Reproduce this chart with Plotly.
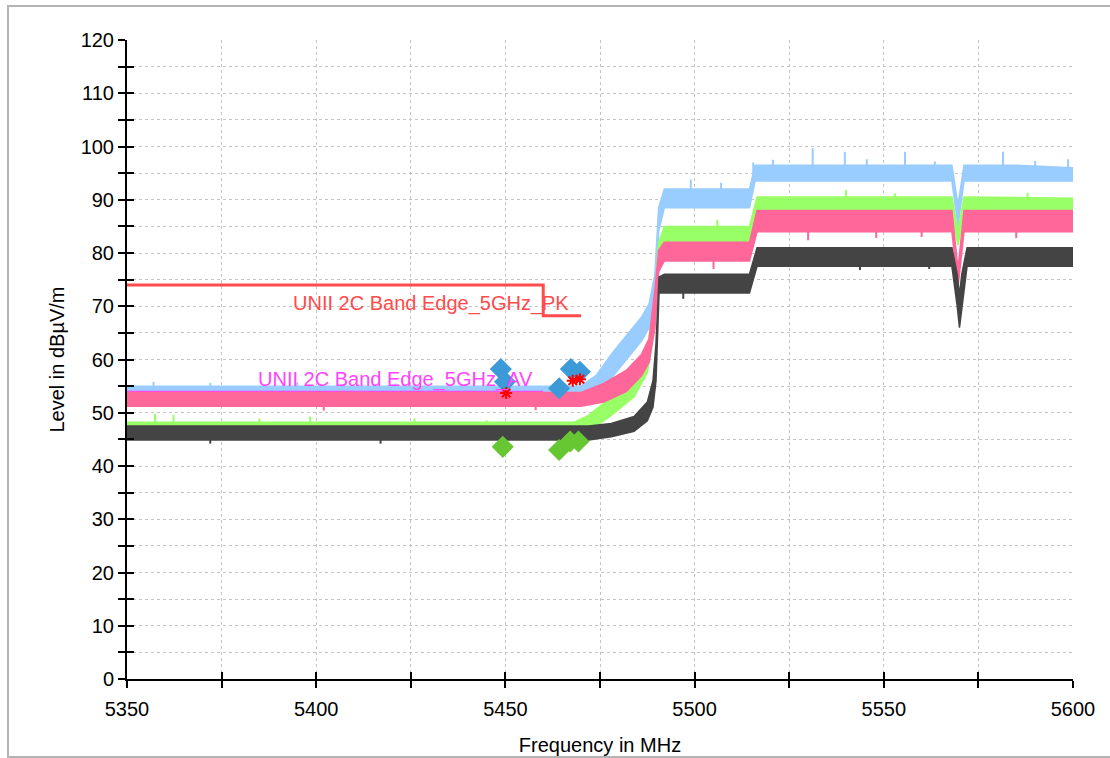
import plotly.graph_objects as go

# ---- frequency axis (MHz) and level axis (dBuV/m) ----
x_tick_vals = [5350, 5375, 5400, 5425, 5450, 5475, 5500, 5525, 5550, 5575, 5600]
x_tick_labels = ["5350", "", "5400", "", "5450", "", "5500", "", "5550", "", "5600"]
y_tick_vals = [0, 10, 20, 30, 40, 50, 60, 70, 80, 90, 100, 110, 120]

# ---- limit lines ----
pk_limit_freq = [5350, 5460, 5460, 5470]
pk_limit_level = [74.0, 74.0, 68.2, 68.2]
av_limit_freq = [5350, 5460]
av_limit_level = [54.0, 54.0]

# ---- measured traces: upper / lower envelope of each sweep ----
blue_freq = [5350, 5470, 5474, 5478, 5482, 5486, 5488, 5489.5, 5490.5, 5492, 5514.5, 5516,
             5530, 5568, 5569.6, 5571.2, 5585, 5600]
blue_upper = [55.0, 55.0, 57.0, 61.0, 64.5, 68.0, 70.5, 76.0, 88.5, 92.0, 92.0, 96.5,
              96.5, 96.5, 89.0, 96.5, 96.5, 96.0]
blue_lower = [51.5, 51.5, 53.0, 56.5, 60.0, 63.5, 66.0, 70.0, 84.0, 88.5, 88.5, 93.5,
              93.5, 93.5, 85.0, 93.5, 93.5, 93.5]

green_freq = [5350, 5468, 5472, 5478, 5484, 5487.5, 5489.5, 5490.5, 5492, 5514.5, 5516.5,
              5568, 5569.6, 5571.2, 5600]
green_upper = [48.2, 48.2, 49.5, 53.0, 57.0, 62.0, 72.0, 82.0, 85.0, 85.0, 90.5,
               90.5, 84.0, 90.5, 90.3]
green_lower = [45.5, 45.5, 46.5, 49.5, 53.0, 57.5, 66.0, 78.0, 82.0, 82.0, 87.5,
               87.5, 81.5, 87.5, 87.5]

pink_freq = [5350, 5470, 5476, 5482, 5486, 5488, 5489.5, 5490.5, 5492, 5514.5, 5516.5,
             5568, 5569.6, 5571.2, 5600]
pink_upper = [53.8, 53.8, 55.5, 58.0, 61.0, 64.0, 73.0, 80.5, 82.0, 82.0, 88.0,
              88.0, 77.0, 88.0, 88.0]
pink_lower = [51.2, 51.2, 52.0, 54.0, 57.0, 59.5, 66.0, 76.5, 78.5, 78.5, 84.0,
              84.0, 73.5, 84.0, 84.0]

black_freq = [5350, 5472, 5478, 5484, 5487.5, 5489, 5489.8, 5490.6, 5492, 5514.5, 5516.5,
              5568, 5569.4, 5570, 5570.6, 5572, 5600]
black_upper = [47.5, 47.5, 48.0, 49.3, 52.0, 56.0, 63.0, 75.5, 76.0, 76.0, 81.0,
               81.0, 76.0, 72.0, 76.0, 81.0, 81.0]
black_lower = [44.9, 44.9, 45.5, 46.5, 48.5, 51.0, 56.0, 72.5, 72.5, 72.5, 77.5,
               77.5, 70.0, 66.0, 70.0, 77.5, 77.5]

# ---- isolated noise spikes standing out of each envelope (freq, top, bottom) ----
blue_spike_freq = [5357, 5372, 5395, 5421, 5499, 5507, 5515.5, 5520.7, 5531.2, 5539.7,
                   5545.5, 5555.6, 5563.5, 5581.5, 5590, 5598.7]
blue_spike_top = [55.8, 55.6, 55.7, 55.5, 93.8, 93.2, 97.0, 97.5, 99.7, 99.0,
                  97.6, 99.0, 97.2, 99.0, 97.3, 97.6]
blue_spike_bot = [54.0, 54.0, 54.0, 54.0, 91.0, 91.0, 95.0, 95.5, 95.5, 95.5,
                  95.5, 95.5, 95.5, 95.5, 95.5, 95.5]
green_spike_freq = [5357.4, 5362.3, 5385, 5398.4, 5426, 5445, 5506, 5540, 5553, 5588]
green_spike_top = [49.8, 49.6, 48.9, 49.3, 48.9, 48.6, 86.2, 91.8, 91.2, 91.3]
green_spike_bot = [47.0, 47.0, 47.0, 47.0, 47.0, 47.0, 84.0, 89.5, 89.5, 89.5]
pink_spike_freq = [5402, 5458, 5505, 5530, 5548, 5560, 5585]
pink_spike_top = [52.5, 52.5, 79.5, 85.0, 85.0, 85.0, 85.0]
pink_spike_bot = [50.4, 50.5, 77.0, 82.4, 82.8, 83.0, 82.8]
black_spike_freq = [5372, 5417, 5497, 5543.7, 5562, 5593]
black_spike_top = [46.0, 46.0, 74.0, 79.0, 79.0, 79.0]
black_spike_bot = [44.2, 44.2, 71.4, 76.8, 77.0, 77.4]

# ---- final measurement points ----
peak_freq = [5448.8, 5449.9, 5464.2, 5467.3, 5469.7]
peak_level = [58.2, 55.8, 54.6, 58.2, 57.7]
avg_freq = [5449.3, 5464.2, 5467.1, 5469.3]
avg_level = [43.6, 43.0, 44.6, 44.6]
star_freq = [5450.2, 5467.8, 5469.7]
star_level = [53.7, 56.0, 56.3]

FONT = "Liberation Sans, Arial, sans-serif"
FSIZE = 20

fig = go.Figure()


def band(freq, upper, lower, color):
    fig.add_trace(go.Scatter(
        x=list(freq) + list(freq)[::-1],
        y=list(upper) + list(lower)[::-1],
        mode="lines", fill="toself", fillcolor=color,
        line=dict(color=color, width=1.5),
        hoverinfo="skip", showlegend=False,
    ))


def spikes(freq, top, bot, color):
    xs, ys = [], []
    for f, t, b in zip(freq, top, bot):
        xs += [f, f, None]
        ys += [b, t, None]
    fig.add_trace(go.Scatter(x=xs, y=ys, mode="lines", line=dict(color=color, width=2),
                             hoverinfo="skip", showlegend=False))


fig.add_trace(go.Scatter(x=pk_limit_freq, y=pk_limit_level, mode="lines",
                         line=dict(color="#ff4b4b", width=3), showlegend=False))
band(blue_freq, blue_upper, blue_lower, "#99ccff")
spikes(blue_spike_freq, blue_spike_top, blue_spike_bot, "#99ccff")
fig.add_trace(go.Scatter(x=av_limit_freq, y=av_limit_level, mode="lines",
                         line=dict(color="#ff44ff", width=1.5), showlegend=False))
band(green_freq, green_upper, green_lower, "#99ff66")
spikes(green_spike_freq, green_spike_top, green_spike_bot, "#99ff66")
band(pink_freq, pink_upper, pink_lower, "#ff6699")
spikes(pink_spike_freq, pink_spike_top, pink_spike_bot, "#ff6699")
band(black_freq, black_upper, black_lower, "#444444")
spikes(black_spike_freq, black_spike_top, black_spike_bot, "#444444")

fig.add_trace(go.Scatter(x=peak_freq, y=peak_level, mode="markers",
                         marker=dict(symbol="diamond", size=17, color="#3d9ad8"),
                         showlegend=False))
fig.add_trace(go.Scatter(x=avg_freq, y=avg_level, mode="markers",
                         marker=dict(symbol="diamond", size=17, color="#66c733"),
                         showlegend=False))
fig.add_trace(go.Scatter(x=star_freq, y=star_level, mode="markers",
                         marker=dict(symbol="asterisk", size=10,
                                     line=dict(color="#ff0000", width=2)),
                         showlegend=False))

# companion axes that draw the inner half of each crossing tick mark
fig.add_trace(go.Scatter(x=[5350], y=[0], xaxis="x2", yaxis="y2", mode="markers",
                         marker=dict(opacity=0), hoverinfo="skip", showlegend=False))

fig.add_annotation(x=5467.3, y=70.6, text="UNII 2C Band Edge_5GHz_PK", showarrow=False,
                   xanchor="right", yanchor="middle",
                   font=dict(family=FONT, size=FSIZE, color="#ff4b4b"))
fig.add_annotation(x=5384.0, y=56.3, text="UNII 2C Band Edge_5GHz_AV", showarrow=False,
                   xanchor="left", yanchor="middle",
                   font=dict(family=FONT, size=FSIZE, color="#ff44ff"))

grid = dict(showgrid=True, gridcolor="#c4c4c4", gridwidth=1, griddash="dot")

fig.update_layout(
    width=1110, height=758,
    margin=dict(l=127, r=37, t=40, b=79),
    paper_bgcolor="white", plot_bgcolor="white",
    font=dict(family=FONT, size=FSIZE, color="black"),
    xaxis=dict(range=[5350, 5600], tickvals=x_tick_vals, ticktext=x_tick_labels,
               ticks="outside", ticklen=7, tickwidth=2, tickcolor="black",
               showline=True, linecolor="black", linewidth=2,
               zeroline=False, automargin=False, ticklabelstandoff=4,
               title=dict(text="Frequency in MHz", standoff=19,
                          font=dict(family=FONT, size=FSIZE)),
               **grid),
    yaxis=dict(range=[0, 120], tickvals=y_tick_vals,
               ticks="outside", ticklen=7, tickwidth=2, tickcolor="black",
               minor=dict(dtick=5, ticks="outside", ticklen=7, tickwidth=2,
                          tickcolor="black", showgrid=True, gridcolor="#c4c4c4",
                          griddash="dot"),
               showline=True, linecolor="black", linewidth=2, zeroline=False,
               automargin=False,
               title=dict(text="Level in dBµV/m", standoff=11,
                          font=dict(family=FONT, size=FSIZE)),
               **grid),
    xaxis2=dict(range=[5350, 5600], overlaying="x", anchor="y2", side="bottom",
                tickvals=x_tick_vals, ticks="inside", ticklen=7, tickwidth=2,
                tickcolor="black", showticklabels=False, showgrid=False,
                showline=False, zeroline=False),
    yaxis2=dict(range=[0, 120], overlaying="y", anchor="x2", side="left",
                dtick=5, tick0=0, ticks="inside", ticklen=7, tickwidth=2,
                tickcolor="black", showticklabels=False, showgrid=False,
                showline=False, zeroline=False),
    shapes=[dict(type="rect", xref="paper", yref="paper",
                 x0=-0.1258, x1=1.06, y0=-0.1221, y1=1.0532,
                 line=dict(color="#b4b4b4", width=2), layer="below")],
)

fig.write_html("out.html")
